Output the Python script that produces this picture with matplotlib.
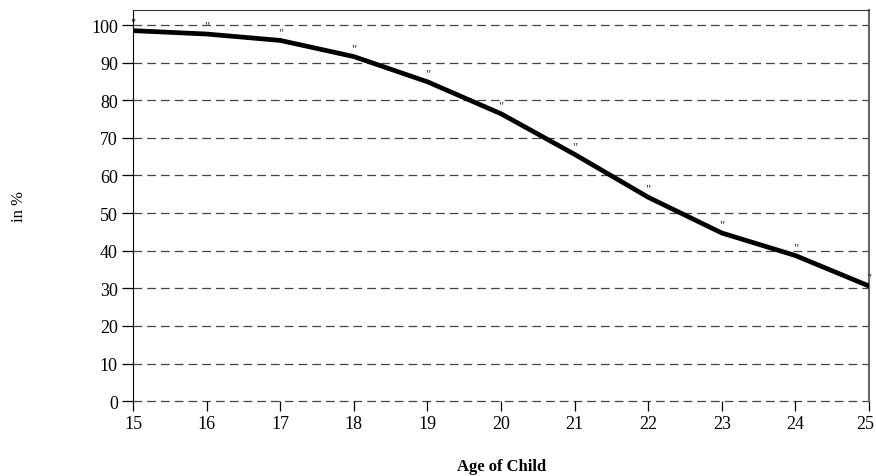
import numpy as np
import matplotlib.pyplot as plt
import matplotlib.transforms as mtransforms

plt.rcParams['font.family'] = ['Liberation Serif', 'DejaVu Serif']

ages = [15, 16, 17, 18, 19, 20, 21, 22, 23, 24, 25]
share = [98.5, 97.6, 95.9, 91.6, 84.9, 76.4, 65.6, 54.2, 44.7, 38.7, 30.6]
yticks = list(range(0, 101, 10))

fig = plt.figure(figsize=(8.76, 4.77), dpi=100)
ax = fig.add_axes([0.152, 0.157, 0.840, 0.820])

# dashed horizontal gridlines
for y in yticks:
    ax.axhline(y, color='#444444', linestyle=(0, (7, 4)), linewidth=0.9,
               zorder=1, clip_on=False)

ax.plot(ages, share, color='black', linewidth=3.4, solid_joinstyle='round', zorder=3)

# tiny data labels (quote marks) above each point
for a, s in zip(ages, share):
    ax.text(a, s + 0.5, '"', ha='center', va='bottom', fontsize=9, color='#333333', zorder=4)

ax.set_xlim(15, 25)
ax.set_ylim(0, 104)
ax.set_xticks(ages)
ax.set_yticks(yticks)
ax.tick_params(axis='both', direction='out', labelsize=13, width=0.9, color='black')
ax.tick_params(axis='y', length=8, pad=3)
ax.tick_params(axis='x', length=7, pad=3)

# keep the last x label inside the figure
last = ax.get_xticklabels()[-1]
last.set_transform(last.get_transform() +
                   mtransforms.ScaledTranslation(-3 / 72, 0, fig.dpi_scale_trans))

ax.spines['bottom'].set_visible(False)
ax.spines['left'].set_color('black')
ax.spines['top'].set_color('#333333')
ax.spines['right'].set_color('#666666')
ax.spines['right'].set_linewidth(1.5)

ax.set_xlabel('Age of Child', fontsize=12, fontweight='bold', labelpad=19)
ax.set_ylabel('in %', fontsize=12, labelpad=46)

plt.savefig('out.png', dpi=100)
plt.close()
